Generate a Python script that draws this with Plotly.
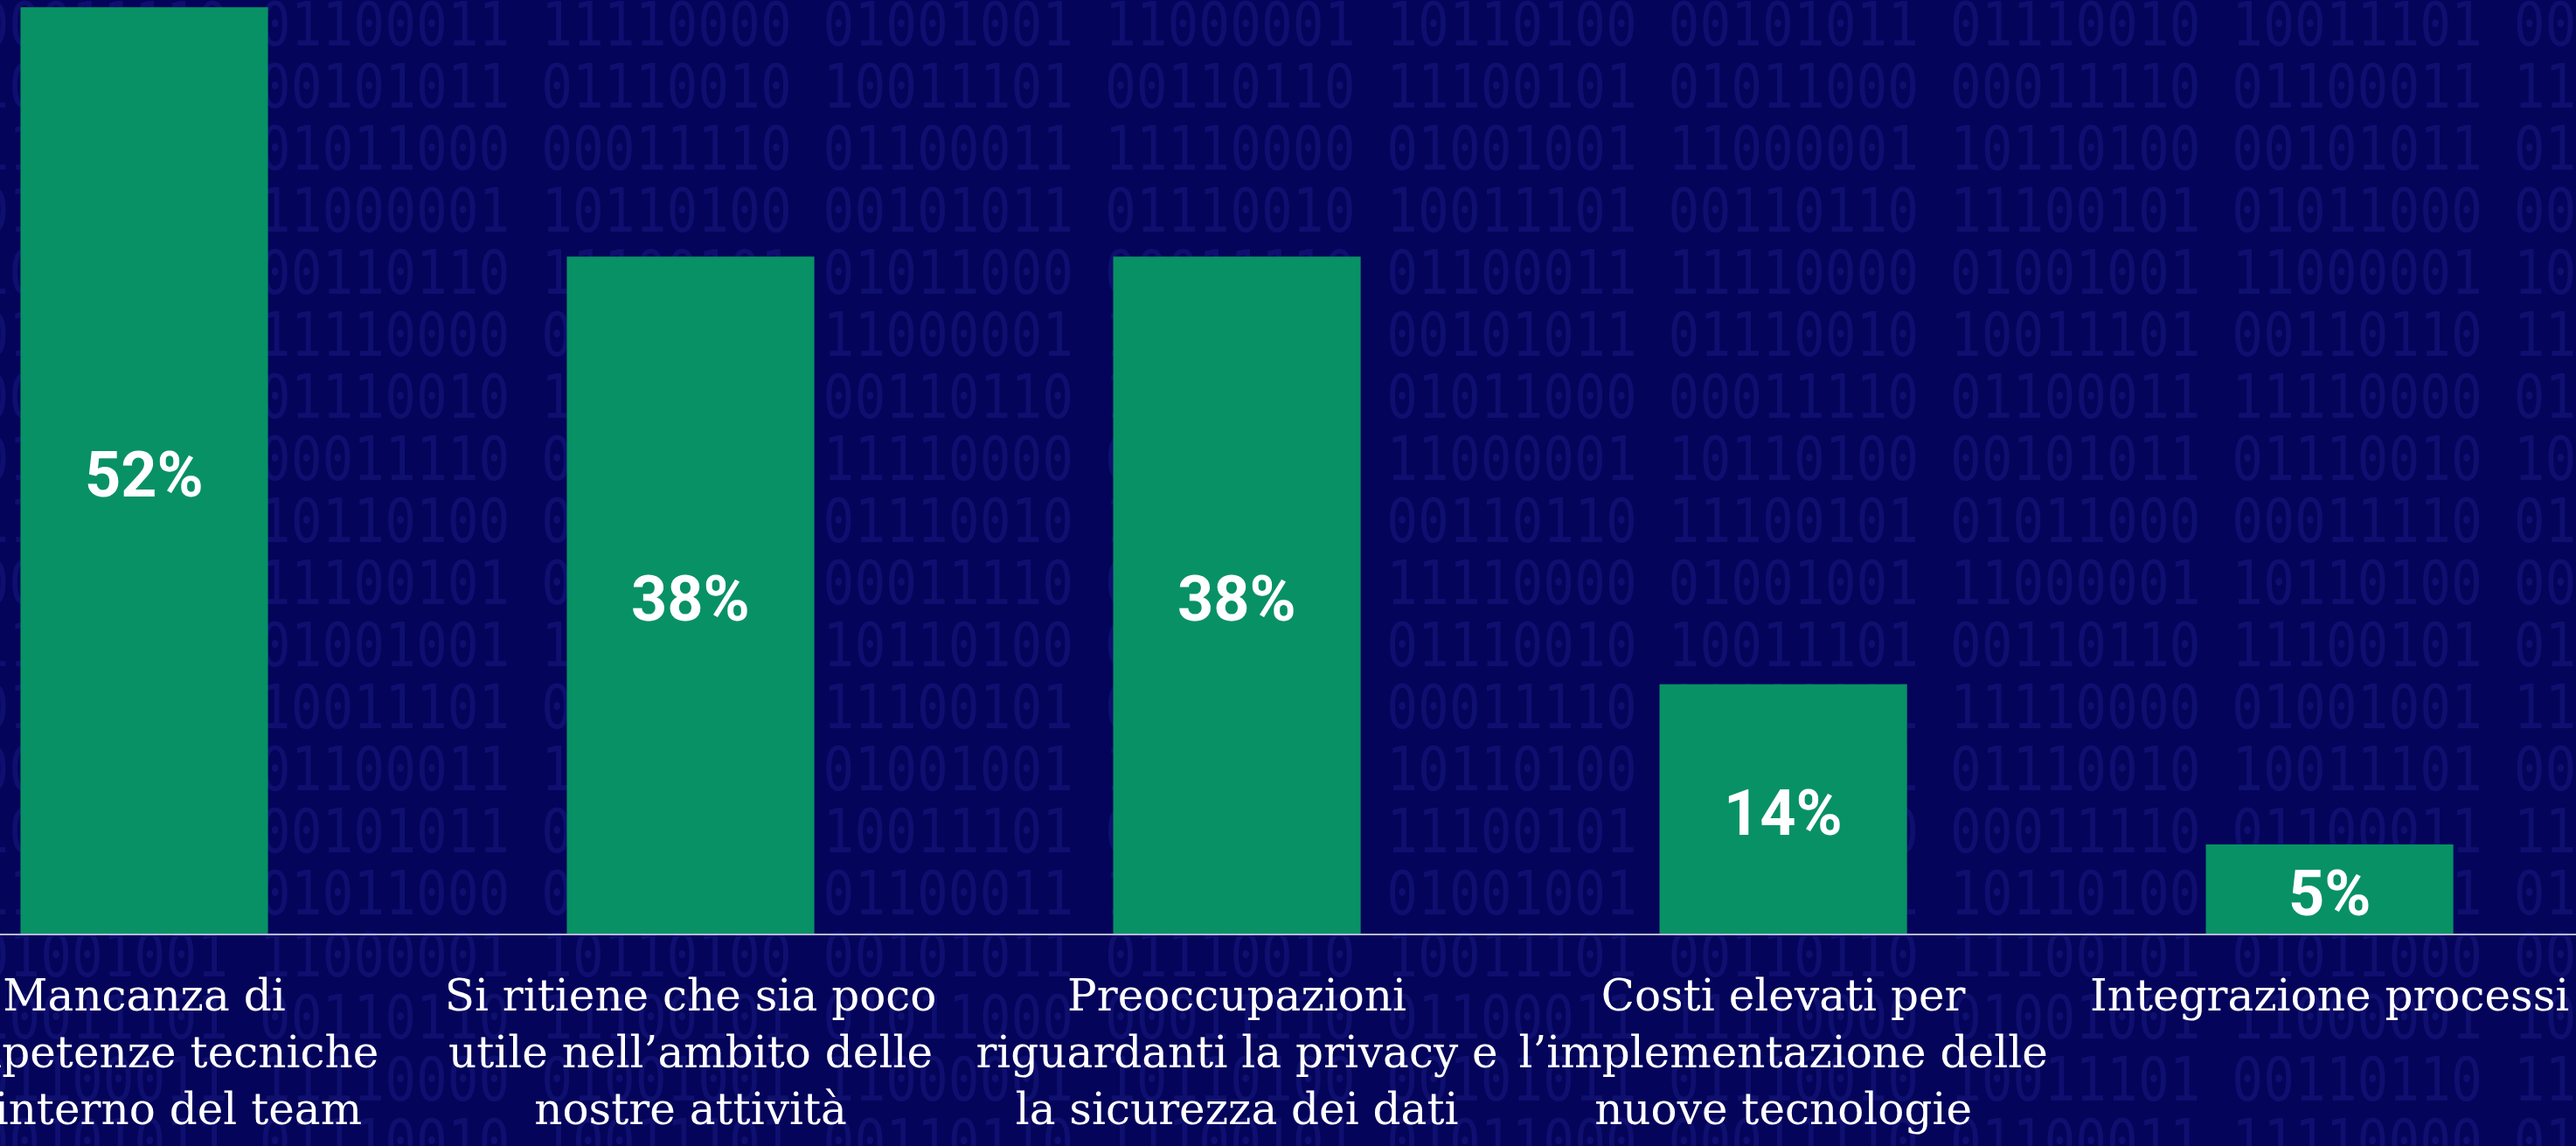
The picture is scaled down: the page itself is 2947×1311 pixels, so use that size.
import base64
import plotly.graph_objects as go

categories = [
    "Mancanza di<br>competenze tecniche<br>all’interno del team",
    "Si ritiene che sia poco<br>utile nell’ambito delle<br>nostre attività",
    "Preoccupazioni<br>riguardanti la privacy e<br>la sicurezza dei dati",
    "Costi elevati per<br>l’implementazione delle<br>nuove tecnologie",
    "Integrazione processi",
]
values = [52, 38, 38, 14, 5]
labels = [f"{v}%" for v in values]

BG = "#04045a"
GREEN = "#089165"

# faint binary-code texture behind the chart
groups = ["00011110", "01100011", "11110000", "01001001", "11000001",
          "10110100", "00101011", "01110010", "10011101", "00110110",
          "11100101", "01011000"]
rows = []
for r in range(19):
    rows.append(" ".join(groups[(r * 5 + k) % len(groups)] for k in range(10)))
svg_lines = []
for r, s in enumerate(rows):
    svg_lines.append(
        f'<text x="-30" y="{52 + r * 71}" font-family="DejaVu Sans Mono" '
        f'font-size="70" fill="#3434b4" fill-opacity="0.24" '
        f'transform="scale(0.85,1)">{s}</text>'
    )
svg = ('<svg xmlns="http://www.w3.org/2000/svg" width="2947" height="1311">'
       + "".join(svg_lines) + "</svg>")
bg_src = "data:image/svg+xml;base64," + base64.b64encode(svg.encode()).decode()

fig = go.Figure()

fig.add_trace(go.Bar(
    x=categories, y=values,
    marker=dict(color=GREEN, line=dict(width=0)),
    hoverinfo="skip",
))

# value labels centred in each bar
for cat, v, lab in zip(categories, values, labels):
    fig.add_annotation(
        x=cat, y=v / 2, text=lab, showarrow=False, yshift=-5,
        font=dict(family="Roboto", size=72, color="white", weight="bold"),
    )

fig.add_layout_image(dict(
    source=bg_src, xref="paper", yref="paper",
    x=0, y=1, sizex=1, sizey=1311 / 1068,
    xanchor="left", yanchor="top", sizing="stretch", layer="below",
))

fig.update_xaxes(
    range=[-0.264, 4.451], automargin=False,
    showline=True, linecolor="#b8b8dc", linewidth=2,
    showgrid=False, ticks="", ticklabelstandoff=26,
    tickfont=dict(family="Roboto Slab, DejaVu Serif", size=50, color="white"),
)
fig.update_yaxes(range=[0, 52.4], visible=False, showgrid=False,
                 automargin=False)

fig.update_layout(
    width=2947, height=1311,
    margin=dict(l=0, r=0, t=0, b=243, autoexpand=False),
    paper_bgcolor=BG,
    plot_bgcolor="rgba(0,0,0,0)",
    bargap=0.547,
    showlegend=False,
)

fig.write_html(
    "out.html",
    config={"displayModeBar": False},
    post_script="document.body.style.margin='0';"
                "document.body.style.overflow='hidden';"
                "document.body.style.background='" + BG + "';",
)
